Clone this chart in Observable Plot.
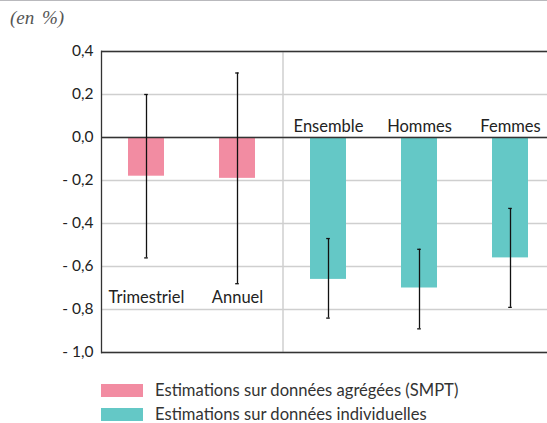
<!DOCTYPE html>
<html>
<head>
<meta charset="utf-8">
<script src="https://cdn.jsdelivr.net/npm/d3@7"></script>
<script src="https://cdn.jsdelivr.net/npm/@observablehq/plot@0.6"></script>
<style>
  html, body { margin: 0; padding: 0; background: #fff; overflow: hidden; }
  #wrap { width: 547px; height: 423px; position: relative; border-top: 1px solid #b9b9bd; box-sizing: border-box; }
  #title { height: 35px; font-family: "Liberation Serif", serif; font-style: italic; font-size: 19px; color: #555; padding-left: 10px; line-height: 34px; word-spacing: 3px; }
  #legend { position: absolute; left: 101px; top: 377px; font-family: Lato, sans-serif; font-size: 16.6px; color: #333; }
  .item { display: flex; align-items: center; height: 24px; white-space: nowrap; }
  .item span { line-height: 1; }
  .sw { width: 42px; height: 13px; margin-right: 12px; flex: none; }
</style>
</head>
<body>
<div id="wrap">
  <div id="title">(en %)</div>
  <div id="chart"></div>
  <div id="legend"></div>
</div>
<script>
const categories = ["Trimestriel", "Annuel", "Ensemble", "Hommes", "Femmes"];
const groups = ["agg", "agg", "ind", "ind", "ind"];
const values = [-0.18, -0.19, -0.66, -0.70, -0.56];
const lows = [-0.56, -0.68, -0.84, -0.89, -0.79];
const highs = [0.20, 0.30, -0.47, -0.52, -0.33];
const yTicks = [0.4, 0.2, 0, -0.2, -0.4, -0.6, -0.8, -1.0];
const groupNames = {agg: "Estimations sur données agrégées (SMPT)", ind: "Estimations sur données individuelles"};
const groupColors = {agg: "#f28ca2", ind: "#64c8c6"};

const data = categories.map((c, i) => ({cat: c, group: groups[i], v: values[i], lo: lows[i], hi: highs[i]}));

const xRange = [101, 556];
const step = (xRange[1] - xRange[0]) / categories.length;
const bw = step * 0.4;

const fmt = d => {
  const s = Math.abs(d).toFixed(1).replace(".", ",");
  return d < -1e-9 ? "- " + s : s;
};

const chart = Plot.plot({
  width: 547,
  height: 330,
  marginTop: 15,
  marginBottom: 14,
  marginLeft: 101,
  marginRight: 0,
  style: {fontFamily: "Lato, sans-serif", fontSize: "14px", color: "#222", overflow: "hidden"},
  x: {domain: categories, range: xRange, paddingInner: 0.6, paddingOuter: 0.3, axis: null},
  y: {domain: [-1.0, 0.4], ticks: yTicks},
  color: {domain: Object.keys(groupColors), range: Object.values(groupColors)},
  marks: [
    Plot.gridY(yTicks, {stroke: "#cfcfcf", strokeOpacity: 1, strokeWidth: 1.5}),
    Plot.ruleX(["Ensemble"], {x: d => d, dx: -step / 2, stroke: "#cfcfcf", strokeWidth: 1.5}),
    Plot.barY(data, {x: "cat", y: "v", fill: d => d.group}),
    Plot.ruleY([0.4, 0, -1.0], {stroke: "#333", strokeWidth: 1.3}),
    Plot.ruleX(data, {x: "cat", y1: "lo", y2: "hi", stroke: "#111", strokeWidth: 1.3}),
    Plot.tickY(data, {x: "cat", y: "lo", stroke: "#111", strokeWidth: 1.3, insetLeft: bw / 2 - 2, insetRight: bw / 2 - 2}),
    Plot.tickY(data, {x: "cat", y: "hi", stroke: "#111", strokeWidth: 1.3, insetLeft: bw / 2 - 2, insetRight: bw / 2 - 2}),
    Plot.frame({anchor: "left", stroke: "#333", strokeWidth: 1.3}),
    Plot.axisY({ticks: yTicks, tickFormat: fmt, tickSize: 0, tickPadding: 8, fontSize: 15.5, label: null, fill: "#222"}),
    Plot.text(data.filter(d => d.group === "agg"), {x: "cat", text: "cat", frameAnchor: "bottom", dy: -55, lineAnchor: "middle", fontSize: 16.5, fill: "#222"}),
    Plot.text(data.filter(d => d.group === "ind"), {x: "cat", y: 0, text: "cat", dy: -11, lineAnchor: "middle", fontSize: 16.5, fill: "#222"})
  ]
});
document.getElementById("chart").appendChild(chart);

const leg = document.getElementById("legend");
Object.keys(groupNames).forEach(g => {
  const it = document.createElement("div");
  it.className = "item";
  const sw = document.createElement("div");
  sw.className = "sw";
  sw.style.background = groupColors[g];
  const tx = document.createElement("span");
  tx.textContent = groupNames[g];
  it.appendChild(sw); it.appendChild(tx);
  leg.appendChild(it);
});
</script>
</body>
</html>
